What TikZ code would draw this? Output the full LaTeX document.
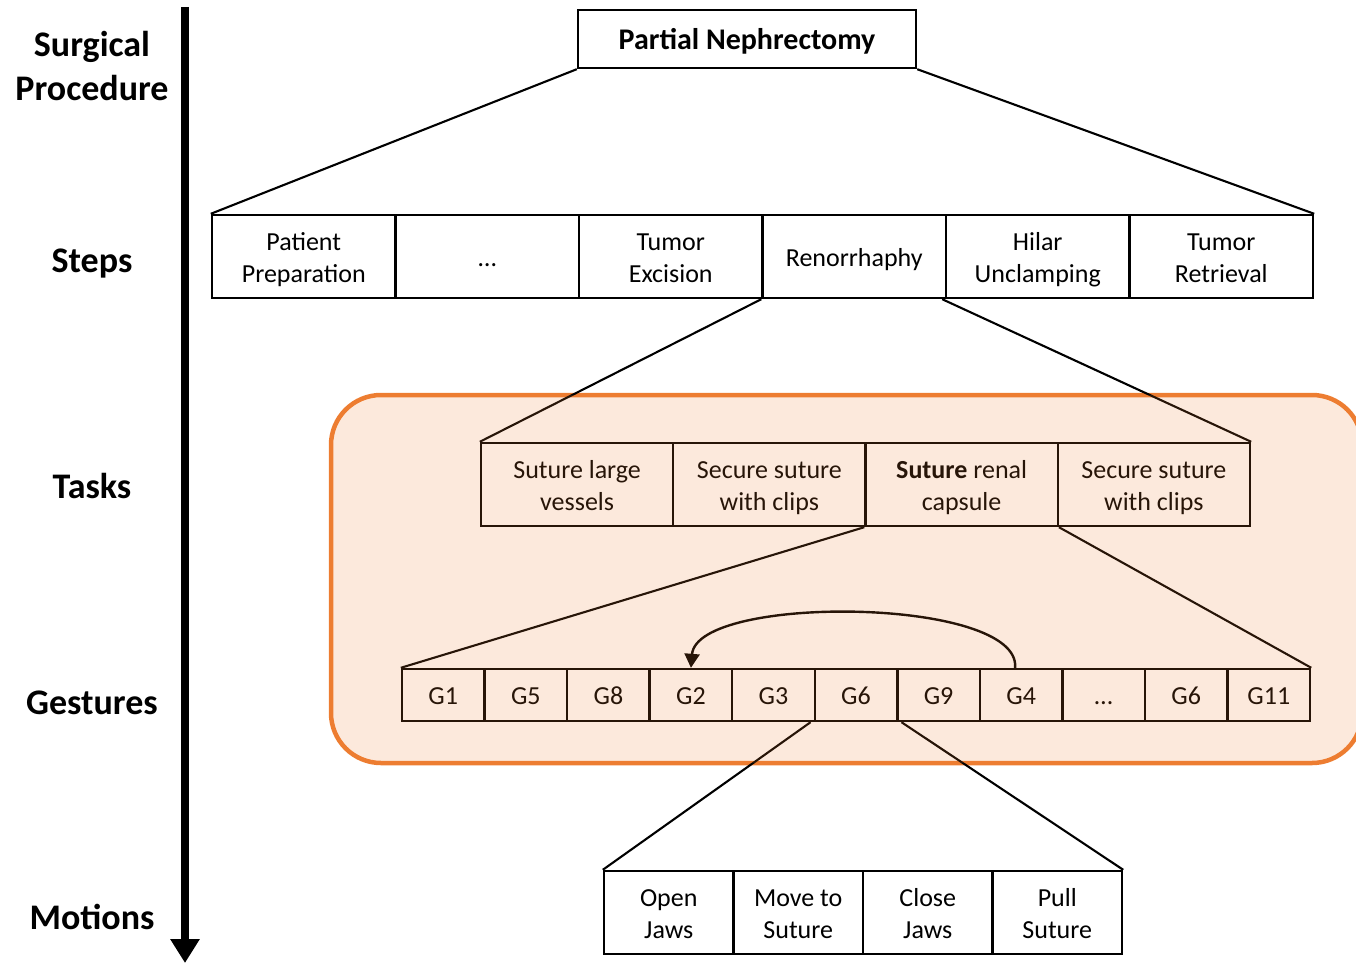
\documentclass[tikz,border=0pt]{standalone}
\usepackage{fontspec}
\setmainfont{Carlito}
\usetikzlibrary{arrows.meta}
\definecolor{accent}{HTML}{ED7D31}
\tikzset{
  cell/.style={draw, line width=2.4pt, inner sep=0pt, anchor=center},
  lbl/.style={align=center, inner sep=0pt, yshift=-4pt,
    font=\fontsize{26}{32}\selectfont},
  link/.style={line width=2.1pt},
  level/.style={align=center, font=\fontsize{36}{44}\selectfont\bfseries},
}
\begin{document}
\begin{tikzpicture}[x=1pt,y=-1pt]
\path[use as bounding box] (0,0) rectangle (1356,963);

% highlight frame around tasks and gestures
\draw[accent, line width=4.5pt, rounded corners=50pt] (331,395) rectangle (1362,763);

% level labels and time axis
\node[level] (lsp) at (92,66) {Surgical\\Procedure};
\node[level] (lst) at (92,264) {Steps};
\node[level] (lta) at (92,486) {Tasks};
\node[level] (lge) at (92,703) {Gestures};
\node[level] (lmo) at (92,917) {Motions};
\coordinate (axtop) at (185,7);
\coordinate (axbot) at (185,963);
\draw[line width=8pt, -{Triangle[length=24pt,width=28pt]}] (axtop) -- (axbot);

% procedure
\node[cell, minimum width=338pt, minimum height=58pt,
  label={[lbl, yshift=1pt, font=\fontsize{30}{36}\selectfont\bfseries]center:\strut Partial Nephrectomy}]
  (proc) at (747,39) {};

% steps
\foreach \t [count=\i] in {Patient\\Preparation, \dots, Tumor\\Excision, Renorrhaphy, Hilar\\Unclamping, Tumor\\Retrieval}
  \node[cell, minimum width=183.5pt, minimum height=83pt, label={[lbl]center:\strut\t\strut}]
    (s\i) at ({212+183.5*(\i-0.5)},256.5) {};

% tasks
\foreach \t [count=\i] in {Suture large\\vessels, Secure suture\\with clips, \textbf{Suture} renal\\capsule, Secure suture\\with clips}
  \node[cell, minimum width=192.25pt, minimum height=83pt, label={[lbl]center:\strut\t\strut}]
    (t\i) at ({481+192.25*(\i-0.5)},484.5) {};

% gestures
\foreach \t [count=\i] in {G1,G5,G8,G2,G3,G6,G9,G4,\dots,G6,G11}
  \node[cell, minimum width=82.55pt, minimum height=52pt, label={[lbl, yshift=1pt]center:\strut\t\strut}]
    (g\i) at ({402+82.55*(\i-0.5)},695) {};

% motions
\foreach \t [count=\i] in {Open\\Jaws, Move to\\Suture, Close\\Jaws, Pull\\Suture}
  \node[cell, minimum width=129.5pt, minimum height=83pt, label={[lbl]center:\strut\t\strut}]
    (m\i) at ({604+129.5*(\i-0.5)},912.5) {};

% zoom connectors between levels
\draw[link] (proc.south west) -- (s1.north west);
\draw[link] (proc.south east) -- (s6.north east);
\draw[link] (s4.south west) -- (t1.north west);
\draw[link] ([xshift=-5pt]s4.south east) -- (t4.north east);
\draw[link] (t3.south west) -- (g1.north west);
\draw[link] (t3.south east) -- (g11.north east);
\draw[link] ([xshift=-3pt]g6.south west) -- (m1.north west);
\draw[link] ([xshift=3pt]g6.south east) -- (m4.north east);

% repetition loop
\draw[line width=2.4pt, -{Triangle[length=14pt,width=15pt]}]
  ([xshift=-6pt]g8.north) .. controls +(6,-71) and +(6,-74) .. (g4.north);

% translucent tint over the framed region
\fill[accent, fill opacity=0.17, rounded corners=50pt] (331,395) rectangle (1362,763);
\end{tikzpicture}
\end{document}
